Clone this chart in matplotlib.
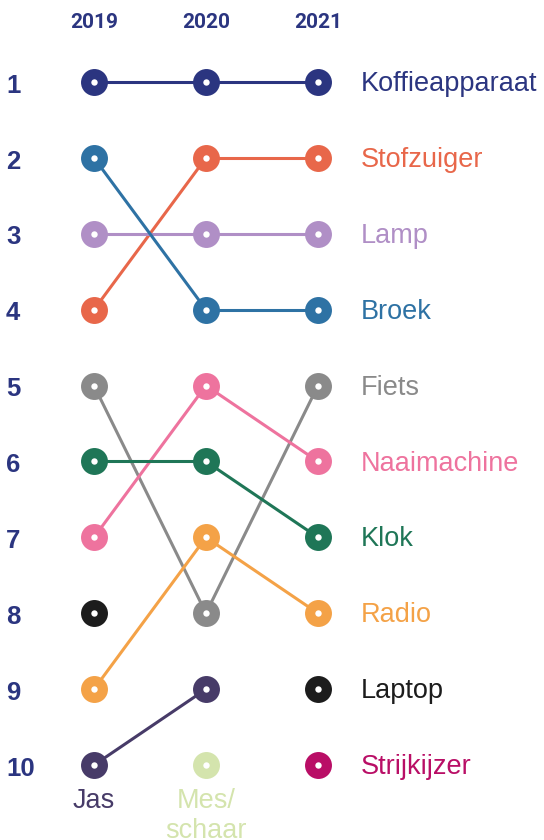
import matplotlib
matplotlib.use("Agg")
import matplotlib.pyplot as plt

years = [2019, 2020, 2021]
items = ["Koffieapparaat", "Stofzuiger", "Lamp", "Broek", "Fiets", "Naaimachine",
         "Klok", "Radio", "Laptop", "Strijkijzer", "Jas", "Mes/\nschaar"]
ranks = {
    "Koffieapparaat": [1, 1, 1],
    "Stofzuiger": [4, 2, 2],
    "Lamp": [3, 3, 3],
    "Broek": [2, 4, 4],
    "Fiets": [5, 8, 5],
    "Naaimachine": [7, 5, 6],
    "Klok": [6, 6, 7],
    "Radio": [9, 7, 8],
    "Laptop": [8, None, 9],
    "Strijkijzer": [None, None, 10],
    "Jas": [10, 9, None],
    "Mes/\nschaar": [None, 10, None],
}
colors = {
    "Koffieapparaat": "#2b3580",
    "Stofzuiger": "#e8674a",
    "Lamp": "#b08fc6",
    "Broek": "#2e72a4",
    "Fiets": "#8a8a8a",
    "Naaimachine": "#ee739e",
    "Klok": "#1f7657",
    "Radio": "#f4a247",
    "Laptop": "#1c1c1c",
    "Strijkijzer": "#b90e66",
    "Jas": "#473b68",
    "Mes/\nschaar": "#d4e4ad",
}
rank_labels = [str(i) for i in range(1, 11)]
navy = "#2b3580"

plt.rcParams['font.family'] = ['Liberation Sans', 'DejaVu Sans']

fig = plt.figure(figsize=(5.44, 8.4), dpi=100)
ax = fig.add_axes([0, 0, 1, 1])
ax.set_xlim(2018.161, 2023.018)
ax.set_ylim(10.987, -0.080)
ax.axis('off')

for name in items:
    r = ranks[name]
    c = colors[name]
    for i in range(len(years) - 1):
        if r[i] is not None and r[i + 1] is not None:
            ax.plot([years[i], years[i + 1]], [r[i], r[i + 1]], color=c, lw=2.2,
                    solid_capstyle='round', zorder=2)
    for i, y in enumerate(years):
        if r[i] is not None:
            ax.plot(y, r[i], 'o', ms=19.4, color=c, mec='none', zorder=3)
            ax.plot(y, r[i], 'o', ms=4.6, color='white', mec='none', zorder=4)

label_fs = 19.5
for name in items:
    r = ranks[name]
    c = colors[name]
    if r[2] is not None:
        ax.text(2021.384, r[2] + 0.12, name, color=c, fontsize=label_fs,
                va='baseline', ha='left')
    else:
        present = [i for i in range(3) if r[i] is not None]
        k = max(present, key=lambda i: r[i])
        ax.text(years[k], r[k] + 0.30, name, color=c, fontsize=label_fs,
                va='top', ha='center')

for i, lab in enumerate(rank_labels):
    ax.text(2018.161 + 6 / 112, i + 1 + 0.14, lab, color=navy, fontsize=18.5,
            fontweight='bold', ha='left', va='baseline')

for y in years:
    ax.text(y, 0.223, str(y), color=navy, fontsize=15, fontweight='semibold',
            family=['Roboto', 'Liberation Sans', 'DejaVu Sans'],
            ha='center', va='center')

fig.savefig("out.png", dpi=100)
